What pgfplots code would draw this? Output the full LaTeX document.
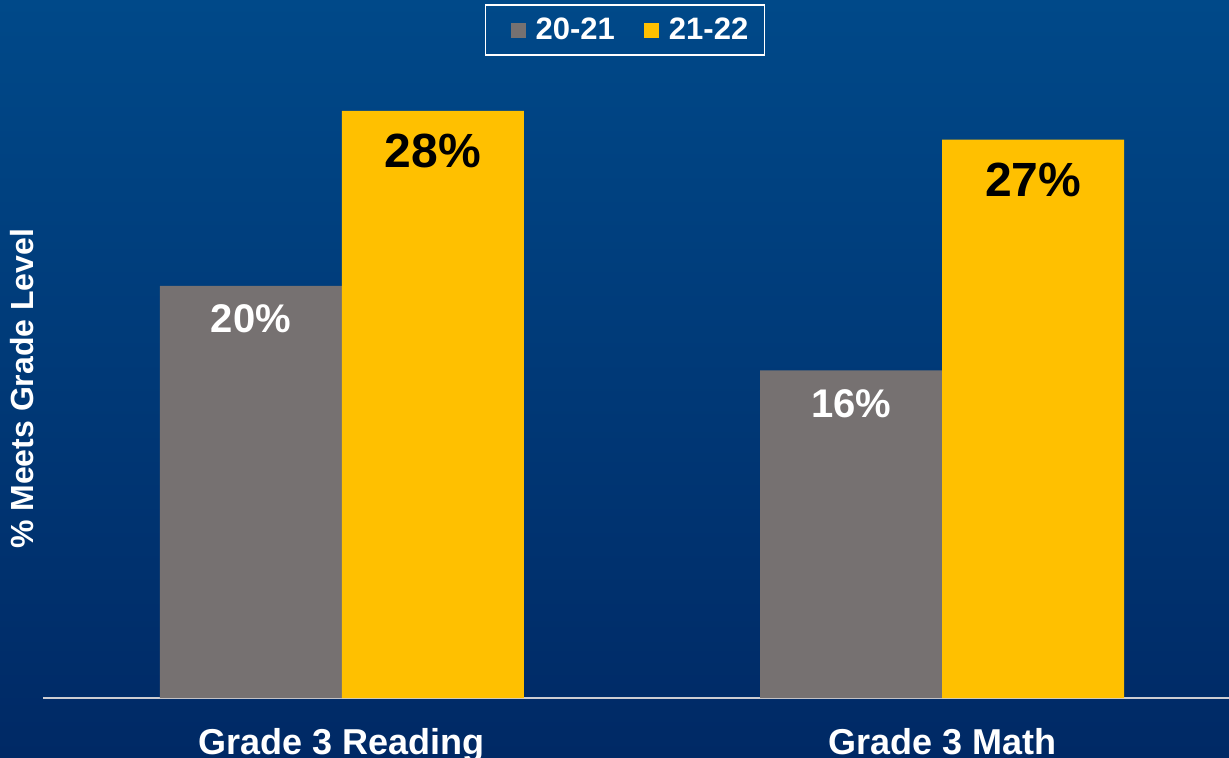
\documentclass[border=0pt]{standalone}
\usepackage{pgfplots}
\pgfplotsset{compat=1.18}
\usepackage{fontspec}
\setmainfont{Liberation Sans}
\definecolor{bgtop}{RGB}{0,73,137}
\definecolor{bgbot}{RGB}{0,41,101}
\definecolor{bargray}{RGB}{118,113,113}
\definecolor{baryel}{RGB}{255,192,0}
\definecolor{baseln}{RGB}{205,205,210}
\pgfplotsset{sqlegend/.style={legend image code/.code={\path (-6.5pt,0pt); \fill[##1,draw=none] (0pt,-3.75pt) rectangle (7.5pt,3.75pt);}}}
\begin{document}
\begin{tikzpicture}
\useasboundingbox (0,0) rectangle (614.5pt,378.5pt);
\clip (0,0) rectangle (614.5pt,378.5pt);
\shade[top color=bgtop, bottom color=bgbot] (0,0) rectangle (614.5pt,378.5pt);
\begin{axis}[
  at={(21.5pt,29.5pt)}, anchor=south west,
  scale only axis, width=593pt, height=349pt, clip=false,
  ybar=0pt, bar width=91pt,
  xmin=-0.498, xmax=1.478, ymin=0, ymax=33.88,
  axis y line=none, axis x line*=bottom,
  x axis line style={draw=baseln, line width=0.75pt},
  xtick={0,1}, xticklabels={Grade 3 Reading, Grade 3 Math},
  major tick length=0pt,
  xticklabel style={font=\bfseries\fontsize{18}{18}\selectfont, text=white, anchor=base, yshift=-28pt},
  legend columns=2,
  legend style={at={(rel axis cs:0.4907,0.957)}, anchor=center, draw=white, line width=0.75pt, fill=none,
    text=white, font=\bfseries\fontsize{15.5}{15.5}\selectfont, inner xsep=6pt, inner ysep=4.25pt,
    /tikz/every odd column/.append style={column sep=3pt},
    /tikz/every even column/.append style={column sep=6pt}},
  point meta=explicit symbolic,
  nodes near coords,
]
\addplot[fill=bargray, draw=none, sqlegend,
  every node near coord/.append style={anchor=center, yshift=-16.5pt, text=white, font=\bfseries\fontsize{20}{20}\selectfont}]
  coordinates {(0,20.0) [20\%] (1,15.9) [16\%]};
\addplot[fill=baryel, draw=none, sqlegend,
  every node near coord/.append style={anchor=center, yshift=-20pt, text=black, font=\bfseries\fontsize{24}{24}\selectfont}]
  coordinates {(0,28.5) [28\%] (1,27.1) [27\%]};
\legend{20-21, 21-22}
\node[rotate=90, text=white, font=\bfseries\fontsize{16}{16}\selectfont] at (rel axis cs:-0.0177,0.443) {\% Meets Grade Level};
\end{axis}
\end{tikzpicture}
\end{document}
